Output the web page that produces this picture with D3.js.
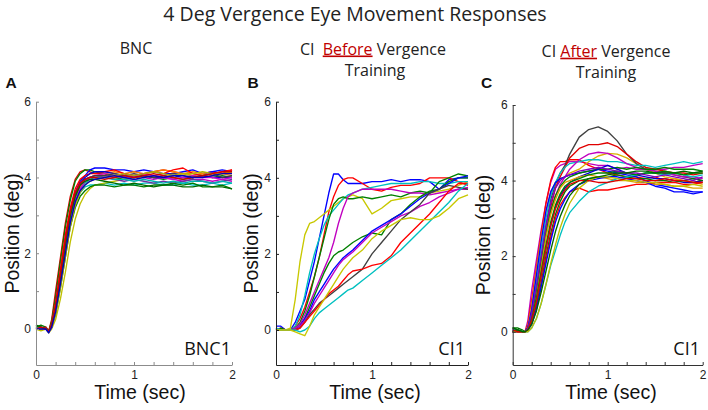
<!DOCTYPE html>
<html><head><meta charset="utf-8">
<script src="https://cdn.jsdelivr.net/npm/d3@7"></script>
<style>body{margin:0;background:#fff}</style>
</head><body>
<svg id="c" width="708" height="410"></svg>
<script>
// ---------- DATA ----------
const chartTitle = "4 Deg Vergence Eye Movement Responses";
const xTickValues = [0,0.2,0.4,0.6,0.8,1,1.2,1.4,1.6,1.8,2];
const xTickLabels = [0,1,2];
const yTickValues = [0,1,2,3,4,5,6];
const yTickLabels = [0,2,4,6];

const timesA = [0,.05,.1,.13,.16,.2,.25,.3,.35,.4,.45,.5,.55,.6,.7,.8,.9,1.0,1.1,1.2,1.3,1.4,1.5,1.6,1.7,1.8,1.9,2.0];
const seriesA = [
 [0.05,0.02,0,-0.05,0.25,1.0,1.9,2.8,3.5,3.95,4.15,4.2,4.15,4.1,4.1,4.05,4.0,4.05,4.1,4.15,4.2,4.15,4.1,4.05,4.1,4.15,4.1,4.2],
 [0.1,0.05,0.02,-0.05,0.2,0.85,1.8,2.7,3.4,3.9,4.1,4.2,4.2,4.15,4.1,4.0,3.95,4.0,4.05,4.0,3.95,4.0,3.95,4.0,4.05,4.0,4.05,4.0],
 [0,0.05,0,-0.1,0.1,0.6,1.4,2.3,3.1,3.6,3.9,4.05,4.2,4.25,4.25,4.2,4.2,4.15,4.2,4.15,4.1,4.1,4.15,4.2,4.1,4.15,4.2,4.15],
 [0,0.02,0.05,-0.05,0.1,0.65,1.5,2.4,3.1,3.6,3.85,3.95,4.0,4.0,4.05,4.0,4.1,4.05,4.0,3.95,4.0,3.95,3.9,3.95,3.95,3.9,3.95,3.9],
 [0.05,0,0,-0.05,0.05,0.45,1.2,2.0,2.8,3.3,3.6,3.75,3.8,3.8,3.85,3.8,3.85,3.8,3.85,3.85,3.8,3.8,3.85,3.8,3.8,3.85,3.8,3.85],
 [0,-0.05,0,-0.1,0,0.25,0.8,1.5,2.3,2.9,3.3,3.55,3.7,3.8,3.85,3.9,3.95,4.0,4.0,4.05,4.0,4.05,4.1,4.05,4.1,4.05,4.1,4.1],
 [0.05,0.05,0,-0.05,0.1,0.55,1.4,2.2,3.0,3.5,3.8,3.95,4.0,4.05,4.0,3.95,3.9,3.95,3.9,3.85,3.9,3.85,3.9,3.95,3.9,3.85,3.9,3.95],
 [0,0,0,-0.05,0.05,0.5,1.3,2.1,2.9,3.45,3.75,3.9,4.0,4.05,4.1,4.15,4.1,4.15,4.1,4.15,4.2,4.15,4.1,4.15,4.1,4.05,4.1,4.05],
 [0.05,0.1,0.05,-0.05,0.05,0.4,1.1,1.9,2.7,3.2,3.5,3.65,3.75,3.8,3.8,3.75,3.8,3.8,3.75,3.8,3.8,3.85,3.8,3.85,3.75,3.75,3.8,3.7],
 [0,0,0.05,-0.05,0.15,0.7,1.6,2.5,3.2,3.7,3.95,4.05,4.1,4.1,4.15,4.2,4.1,4.05,4.1,4.05,4.1,4.2,4.25,4.1,4.05,4.1,4.15,4.2],
 [0,0,0,-0.08,0.05,0.5,1.3,2.2,3.0,3.55,3.85,4.0,4.1,4.15,4.15,4.1,4.05,4.0,4.05,4.0,4.0,4.05,4.0,4.0,4.05,4.0,4.0,4.0],
 [0.05,0,0,-0.05,0.05,0.5,1.25,2.05,2.85,3.4,3.7,3.85,3.95,4.0,4.0,3.95,3.95,3.9,3.95,3.9,3.85,3.9,3.85,3.9,3.9,3.85,3.9,3.85],
 [0,0,0,-0.05,0.05,0.45,1.2,2.0,2.8,3.35,3.7,3.9,4.0,4.05,4.1,4.05,4.0,4.05,4.1,4.05,4.0,3.95,4.0,4.05,4.0,4.0,3.95,4.0],
 [0,0,0.02,-0.05,0.1,0.55,1.35,2.2,3.0,3.5,3.8,3.95,4.0,4.05,4.05,4.1,4.05,4.1,4.05,4.0,4.05,4.1,4.05,4.0,4.05,4.1,4.0,4.05],
 [0,0,0,-0.05,0.05,0.4,1.1,1.9,2.7,3.25,3.6,3.8,3.9,3.95,4.0,4.05,4.1,4.05,4.1,4.15,4.1,4.05,4.1,4.1,4.15,4.1,4.1,4.15],
 [0.1,0.05,0,-0.05,0.1,0.55,1.4,2.25,3.0,3.5,3.8,3.9,3.95,3.95,3.9,3.85,3.8,3.85,3.8,3.75,3.8,3.8,3.75,3.75,3.8,3.75,3.75,3.7],
 [0,0.05,0,-0.05,0.1,0.6,1.45,2.35,3.1,3.6,3.85,3.95,4.0,4.0,3.95,4.0,4.05,4.0,4.05,4.1,4.05,4.0,3.95,4.0,4.05,4.1,4.15,4.15],
 [0,0,0,-0.1,0.05,0.45,1.2,2.0,2.8,3.35,3.65,3.8,3.9,3.95,4.0,4.05,4.0,3.95,4.0,4.05,4.0,4.05,4.05,4.0,4.0,4.05,4.1,4.1]
];
const colorsA = ["#e00000","#008000","#0000ff","#c000c0","#00c0c0","#c0c000","#7030a0","#ff8000","#007a00","#ff0000","#0000d0","#00b0b0","#d000d0","#404040","#b0b000","#006800","#d00000","#0000c0"];

const timesB = [0,.05,.1,.15,.2,.25,.3,.35,.4,.45,.5,.55,.6,.65,.7,.75,.8,.9,1.0,1.1,1.2,1.3,1.4,1.5,1.6,1.7,1.8,1.9,2.0];
const seriesB = [
 [0.1,0.1,0,0,0.2,0.5,0.8,1.3,1.8,2.4,3.0,3.6,4.1,4.1,3.95,3.85,3.85,3.85,3.9,3.9,3.95,3.9,3.95,3.95,3.9,3.7,3.95,4.0,4.0],
 [0,0.05,0,0,0.1,0.3,0.6,1.0,1.4,1.9,2.5,3.1,3.5,3.8,3.95,4.0,4.0,3.85,3.7,3.65,3.75,3.8,3.8,3.85,4.0,4.0,4.0,3.9,3.8],
 [0,0,0,0.05,0.8,1.8,2.5,2.8,2.85,2.95,3.05,3.15,3.25,3.35,3.45,3.5,3.55,3.45,3.05,3.2,3.4,3.45,3.5,3.5,3.6,3.65,3.7,3.8,3.9],
 [0.05,0,0,0,0.1,0.4,0.9,1.5,2.0,2.4,2.75,3.0,3.15,3.3,3.45,3.55,3.6,3.7,3.75,3.8,3.85,3.85,3.85,3.9,3.9,3.85,3.85,3.9,3.9],
 [0,0,0,0,0.05,0.2,0.5,0.9,1.4,1.9,2.4,2.9,3.3,3.45,3.5,3.45,3.45,3.5,3.45,3.5,3.55,3.5,3.6,3.65,3.6,3.9,4.0,4.1,4.05],
 [0,0,0,0,0.05,0.15,0.4,0.7,1.0,1.3,1.6,1.9,2.3,2.8,3.2,3.5,3.6,3.7,3.7,3.7,3.7,3.65,3.6,3.6,3.55,3.6,3.65,3.7,3.7],
 [0,0.05,0,0,0,0.1,0.3,0.6,0.9,1.2,1.5,1.75,1.95,2.05,2.1,2.2,2.3,2.45,2.55,2.5,2.9,3.05,3.3,3.5,3.65,3.7,3.9,4.0,4.0],
 [0,0,0,0,0,0.1,0.3,0.5,0.8,1.0,1.2,1.4,1.6,1.75,1.9,2.0,2.1,2.35,2.6,2.75,2.9,3.05,3.25,3.45,3.6,3.7,3.85,4.0,4.05],
 [0.05,0,0,0,0,0.1,0.25,0.45,0.7,0.9,1.1,1.3,1.5,1.7,1.85,1.95,2.05,2.3,2.55,2.7,2.85,3.0,3.1,3.25,3.35,3.5,3.6,3.7,3.75],
 [0,0,0,0,0,0.05,0.2,0.4,0.55,0.7,0.8,0.9,1.0,1.1,1.2,1.3,1.4,1.6,2.0,2.3,2.6,2.9,3.1,3.3,3.6,3.7,3.8,3.75,3.7],
 [0,0,0,0,0,0.05,0.2,0.35,0.5,0.65,0.8,0.95,1.05,1.15,1.3,1.45,1.55,1.6,1.7,1.75,1.95,2.3,2.55,2.8,3.05,3.35,3.65,3.85,3.85],
 [0.05,0,0,0,0,-0.05,0,0.1,0.3,0.45,0.55,0.65,0.75,0.85,0.95,1.05,1.1,1.3,1.5,1.7,1.9,2.1,2.35,2.6,2.85,3.1,3.35,3.65,3.85],
 [0,0,0,0,-0.05,-0.1,-0.15,0.1,0.4,0.6,0.8,1.0,1.2,1.4,1.6,1.75,1.9,2.1,2.4,2.6,2.75,2.9,2.95,2.9,2.9,3.0,3.2,3.45,3.55]
];
const colorsB = ["#0000ff","#ff0000","#c8c800","#00c0c0","#008000","#c000c0","#008000","#0000ff","#c000c0","#404040","#ff0000","#00c0c0","#c8c800"];

const timesC = [0,.05,.1,.13,.16,.2,.25,.3,.35,.4,.45,.5,.55,.6,.7,.8,.9,1.0,1.1,1.2,1.3,1.4,1.5,1.6,1.7,1.8,1.9,2.0];
const seriesC = [
 [0.05,0.05,0,0,0.3,1.1,1.9,2.7,3.4,3.95,4.3,4.4,4.45,4.5,4.5,4.45,4.4,4.4,4.3,4.35,4.3,4.3,4.3,4.3,4.35,4.35,4.4,4.45],
 [0,0.05,0,0,0.2,0.85,1.7,2.6,3.4,4.0,4.35,4.5,4.5,4.55,4.55,4.4,4.3,4.2,4.15,4.1,4.1,4.05,4.1,4.0,4.05,4.0,3.95,4.0],
 [0.1,0.05,0,0,0.15,0.7,1.6,2.5,3.2,3.7,3.95,4.05,4.1,4.2,4.3,4.5,4.65,4.72,4.7,4.6,4.45,4.3,4.2,4.1,4.05,4.0,3.95,3.9],
 [0.05,0,0,0,0.1,0.5,1.2,2.0,2.8,3.5,3.9,4.2,4.4,4.7,5.15,5.35,5.42,5.3,5.05,4.7,4.45,4.3,4.25,4.2,4.15,4.1,4.05,4.0],
 [0,0,0,0,0.1,0.4,1.0,1.8,2.6,3.3,3.8,4.1,4.35,4.6,4.85,4.95,4.95,5.0,4.9,4.7,4.5,4.35,4.3,4.25,4.2,4.2,4.15,4.2],
 [0.1,0.05,0,0,0.1,0.5,1.3,2.2,3.0,3.6,3.95,4.2,4.35,4.45,4.5,4.55,4.55,4.5,4.5,4.45,4.4,4.4,4.35,4.4,4.45,4.5,4.45,4.5],
 [0,0,0,0,0.1,0.4,1.0,1.8,2.6,3.2,3.6,3.9,4.1,4.3,4.55,4.7,4.75,4.72,4.6,4.45,4.35,4.3,4.25,4.2,4.15,4.1,4.1,4.05],
 [0.05,0,0,0,0.1,0.6,1.5,2.4,3.2,3.7,3.95,4.05,4.1,4.15,4.2,4.25,4.3,4.25,4.2,4.15,4.1,4.0,3.9,3.85,3.8,3.75,3.7,3.7],
 [0.1,0.05,0,0,0.1,0.4,1.1,1.9,2.6,3.2,3.6,3.85,4.0,4.1,4.2,4.25,4.3,4.3,4.35,4.3,4.35,4.3,4.3,4.35,4.3,4.3,4.3,4.25],
 [0,0,0,0,0.05,0.3,0.8,1.5,2.2,2.8,3.3,3.6,3.8,3.95,4.1,4.2,4.3,4.4,4.3,4.2,4.15,4.1,4.05,4.05,4.0,3.95,3.95,4.0],
 [0,0,0,0,0.05,0.3,0.9,1.7,2.5,3.1,3.5,3.8,3.95,4.0,4.1,4.15,4.1,4.05,4.0,4.0,3.95,3.95,3.9,3.9,3.85,3.85,3.8,3.8],
 [0.1,0.1,0.05,0,0.05,0.25,0.7,1.3,2.0,2.6,3.1,3.45,3.7,3.85,4.0,4.05,4.1,4.1,4.15,4.1,4.05,4.05,4.0,4.0,3.95,4.0,4.05,4.0],
 [0,0,0,0,0.05,0.2,0.6,1.2,1.9,2.5,3.0,3.35,3.55,3.7,3.8,3.7,3.75,3.75,3.8,3.85,3.9,3.9,3.95,3.95,3.95,3.9,3.9,3.95],
 [0.05,0.05,0,0,0,0.1,0.35,0.75,1.25,1.75,2.15,2.55,2.9,3.15,3.45,3.7,3.85,3.95,4.05,4.1,4.15,4.2,4.2,4.15,4.2,4.15,4.1,4.15],
 [0,0,0,0,0.05,0.2,0.6,1.2,1.8,2.4,2.9,3.25,3.5,3.7,3.9,4.0,4.05,4.1,4.1,4.05,4.0,3.95,3.85,3.8,3.7,3.7,3.65,3.7],
 [0,0.05,0,0,0.05,0.35,0.9,1.6,2.3,2.9,3.35,3.65,3.85,3.95,4.05,4.15,4.2,4.2,4.25,4.2,4.15,4.2,4.2,4.25,4.2,4.15,4.2,4.2],
 [0,0,0,0,0.1,0.5,1.2,2.0,2.8,3.4,3.8,4.0,4.1,4.15,4.25,4.3,4.35,4.3,4.25,4.2,4.2,4.15,4.1,4.15,4.1,4.05,4.0,4.1],
 [0,0,0,0,0,0.1,0.35,0.75,1.25,1.8,2.3,2.75,3.1,3.4,3.8,4.0,4.1,4.1,4.05,4.0,4.0,3.95,3.95,3.9,3.85,3.85,3.9,3.85],
 [0.05,0,0,0,0.05,0.3,0.8,1.5,2.2,2.8,3.25,3.55,3.75,3.9,4.0,4.0,3.95,3.95,4.0,4.05,4.05,4.0,4.0,4.05,4.0,4.0,3.95,3.95],
 [0.1,0.05,0,0,0.05,0.2,0.55,1.05,1.6,2.15,2.65,3.05,3.35,3.6,3.9,4.05,4.1,4.15,4.2,4.2,4.25,4.25,4.2,4.2,4.2,4.25,4.2,4.25]
];
const colorsC = ["#c000c0","#ff0000","#d8b000","#404040","#e00000","#00c0c0","#c000c0","#0000ff","#008000","#0000d0","#e0a000","#007a00","#ff0000","#00c0c0","#0000ff","#008000","#8000c0","#c0c000","#e00000","#006800"];

// ---------- LAYOUT ----------
const svg = d3.select("#c");
const calibri = "'Open Sans', sans-serif";
const arial = "'Liberation Sans', Arial, sans-serif";

svg.append("text").attr("x",355).attr("y",20.5).attr("text-anchor","middle")
  .attr("font-family",calibri).attr("font-size",19.5).attr("fill","#222").text(chartTitle);

const panels = [
  {times:timesA, series:seriesA, colors:colorsA, x0:36, x1:232, yTop:101.7, yZero:329, yBottom:365, axis:"#8c8c8c",
   letter:"A", lx:5.5, tag:"BNC1", tagX:231, ytX:12, xtX:140},
  {times:timesB, series:seriesB, colors:colorsB, x0:276, x1:468, yTop:101.7, yZero:330, yBottom:365, axis:"#222",
   letter:"B", lx:247.5, tag:"CI1", tagX:465, ytX:251.5, xtX:375},
  {times:timesC, series:seriesC, colors:colorsC, x0:512.7, x1:702.7, yTop:105, yZero:331.7, yBottom:365, axis:"#333",
   letter:"C", lx:481, tag:"CI1", tagX:700, ytX:483, xtX:611}
];

panels.forEach(p => {
  const g = svg.append("g");
  const x = d3.scaleLinear().domain([0,2]).range([p.x0,p.x1]);
  const y = d3.scaleLinear().domain([0,6]).range([p.yZero,p.yTop]);
  y.domain([y.invert(p.yBottom),6]).range([p.yBottom,p.yTop]);

  const line = d3.line().x((d,i)=>x(p.times[i])).y(d=>y(d));
  g.selectAll("path.trace").data(p.series).join("path").attr("class","trace")
    .attr("d",line).attr("fill","none").attr("stroke",(d,i)=>p.colors[i])
    .attr("stroke-width",1.35).attr("stroke-linejoin","round");

  const yAx = g.append("g").attr("transform",`translate(${p.x0},0)`)
    .call(d3.axisLeft(y).tickValues(yTickValues).tickFormat(d=>yTickLabels.includes(d)?d:"")
      .tickSizeInner(-3).tickSizeOuter(0).tickPadding(5));
  const xAx = g.append("g").attr("transform",`translate(0,${p.yBottom})`)
    .call(d3.axisBottom(x).tickValues(xTickValues).tickFormat(d=>xTickLabels.includes(d)?d:"")
      .tickSizeInner(-3).tickSizeOuter(0).tickPadding(5));
  [yAx,xAx].forEach(a=>{
    a.attr("font-family",arial).attr("font-size",12);
    a.selectAll("path.domain,line").attr("stroke",p.axis).attr("stroke-width",1);
    a.selectAll("text").attr("fill","#222");
  });

  g.append("text").attr("x",p.lx).attr("y",88.3).attr("font-family",arial).attr("font-weight","bold")
    .attr("font-size",15.5).attr("fill","#111").text(p.letter);
  g.append("text").attr("x",p.tagX).attr("y",354.5).attr("text-anchor","end").attr("font-family",calibri)
    .attr("font-size",18).attr("fill","#111").text(p.tag);
  g.append("text").attr("transform",`translate(${p.ytX},${(p.yTop+p.yBottom)/2}) rotate(-90)`)
    .attr("text-anchor","middle").attr("dy","0.35em").attr("font-family",arial).attr("font-size",19.5)
    .attr("fill","#111").text("Position (deg)");
  g.append("text").attr("x",p.xtX).attr("y",399).attr("text-anchor","middle").attr("font-family",arial)
    .attr("font-size",19.5).attr("fill","#111").text("Time (sec)");
});

// subtitles
const sub = (x,y,anchor)=>svg.append("text").attr("x",x).attr("y",y).attr("text-anchor",anchor)
  .attr("font-family",calibri).attr("font-size",16).attr("fill","#222");
sub(136,54.3,"middle").text("BNC");
const tb = sub(300,54.5,"start");
tb.append("tspan").text("CI ");
tb.append("tspan").attr("dx",4).attr("fill","#c00000").attr("text-decoration","underline").text("Before");
tb.append("tspan").text(" Vergence");
sub(375,75.5,"middle").text("Training");
const tc = sub(606,56.7,"middle");
tc.append("tspan").text("CI ");
tc.append("tspan").attr("fill","#c00000").attr("text-decoration","underline").text("After");
tc.append("tspan").text(" Vergence");
sub(606,77.5,"middle").text("Training");
</script>
</body></html>
